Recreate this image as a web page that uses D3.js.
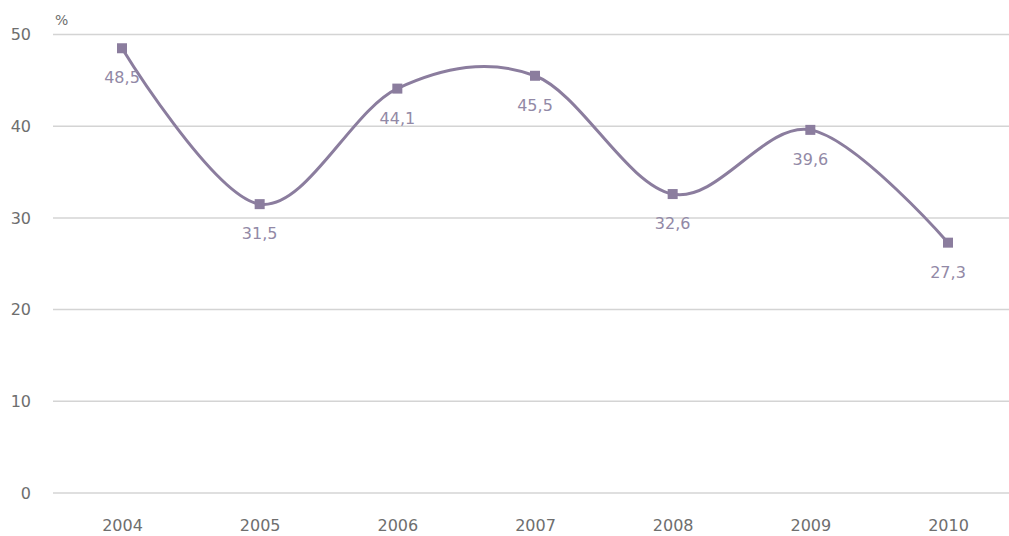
<!DOCTYPE html>
<html>
<head>
<meta charset="utf-8">
<script src="https://cdn.jsdelivr.net/npm/d3@7"></script>
<style>
  body { margin: 0; background: #fff; }
  text { font-family: "DejaVu Sans", Verdana, sans-serif; }
</style>
</head>
<body>
<script>
'use strict';

const years = ["2004", "2005", "2006", "2007", "2008", "2009", "2010"];
const values = [48.5, 31.5, 44.1, 45.5, 32.6, 39.6, 27.3];
const yTicks = [0, 10, 20, 30, 40, 50];

(function() {
  const width = 1009, height = 536;
  const svg = d3.select('body').append('svg')
    .attr('width', width)
    .attr('height', height);

  // scales
  const x = d3.scalePoint().domain(years).range([122, 948]);
  const y = d3.scaleLinear().domain([0, 50]).range([493, 34.5]);

  // grid lines
  svg.append('g').selectAll('line')
    .data(yTicks)
    .enter().append('line')
      .attr('x1', 53).attr('x2', width)
      .attr('y1', d => y(d)).attr('y2', d => y(d))
      .attr('stroke', '#d4d4d4')
      .attr('stroke-width', 1.5);

  // y axis labels
  const yAxis = d3.axisLeft(y).tickValues(yTicks).tickSize(0).tickPadding(0);
  svg.append('g')
    .attr('transform', 'translate(31,0)')
    .call(yAxis)
    .call(g => g.select('.domain').remove())
    .selectAll('text')
      .attr('fill', '#6e6e6e')
      .style('font-size', '16px')
      .style('font-family', '"DejaVu Sans", Verdana, sans-serif');

  // unit label
  svg.append('text')
    .attr('x', 55).attr('y', 25)
    .attr('fill', '#6e6e6e')
    .style('font-size', '14px')
    .text('%');

  // x axis labels
  const xAxis = d3.axisBottom(x).tickSize(0).tickPadding(0);
  svg.append('g')
    .attr('transform', 'translate(0,520)')
    .call(xAxis)
    .call(g => g.select('.domain').remove())
    .selectAll('text')
      .attr('fill', '#6e6e6e')
      .style('font-size', '16px')
      .style('font-family', '"DejaVu Sans", Verdana, sans-serif');

  const rows = years.map((yr, i) => ({year: yr, value: values[i]}));

  // smooth line
  const line = d3.line()
    .x(d => x(d.year))
    .y(d => y(d.value))
    .curve(d3.curveCardinal.tension(0));

  svg.append('path')
    .datum(rows)
    .attr('fill', 'none')
    .attr('stroke', '#8b7d9e')
    .attr('stroke-width', 3)
    .attr('d', line);

  // markers
  svg.append('g').selectAll('rect')
    .data(rows)
    .enter().append('rect')
      .attr('x', d => x(d.year) - 5)
      .attr('y', d => y(d.value) - 5)
      .attr('width', 10)
      .attr('height', 10)
      .attr('fill', '#8b7d9e');

  // value labels
  svg.append('g').selectAll('text')
    .data(rows)
    .enter().append('text')
      .attr('x', d => x(d.year))
      .attr('y', d => y(d.value) + 35)
      .attr('text-anchor', 'middle')
      .attr('fill', '#9289a6')
      .style('font-size', '16px')
      .text(d => d.value.toFixed(1).replace('.', ','));
})();
</script>
</body>
</html>
